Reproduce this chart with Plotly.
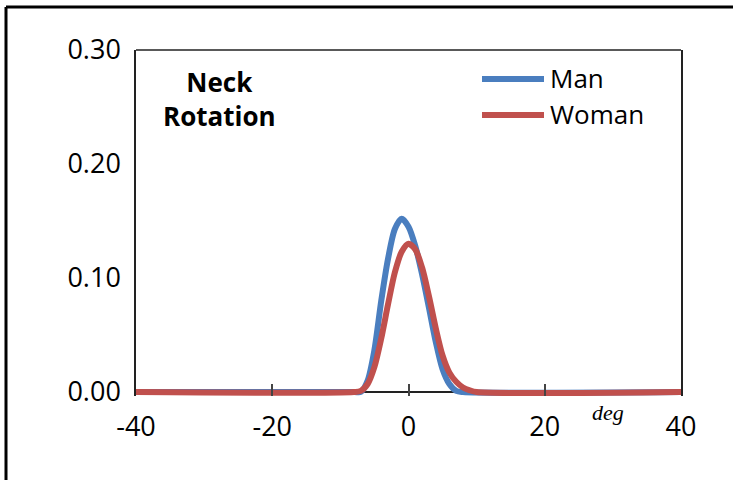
import plotly.graph_objects as go

# Data
man_x = [-40, -8, -7, -6, -5, -4, -3, -2, -1, 0, 1, 2, 3, 4, 5, 6, 7, 8, 40]
man_y = [0.0, 0.0, 0.0, 0.010, 0.037, 0.080, 0.117, 0.143, 0.152, 0.145, 0.128, 0.103, 0.074, 0.044, 0.020, 0.007, 0.001, 0.0, 0.0]

woman_x = [-40, -8, -7, -6, -5, -4, -3, -2, -1, 0, 1, 2, 3, 4, 5, 6, 7, 8, 9, 10, 40]
woman_y = [0.0, 0.0, 0.001, 0.007, 0.022, 0.047, 0.077, 0.105, 0.123, 0.130, 0.125, 0.109, 0.084, 0.056, 0.032, 0.017, 0.009, 0.004, 0.0015, 0.0, 0.0]

x_ticks = [-40, -20, 0, 20, 40]
x_tick_labels = ["-40", "-20", "0", "20", "40"]
y_ticks = [0.0, 0.1, 0.2, 0.3]
series_names = ["Man", "Woman"]
title_text = "Neck<br>Rotation"
x_unit = "deg"

BLUE = "#4A7EBF"
RED = "#C0504D"
FONT = "Open Sans, Lato, sans-serif"

# Geometry (pixels)
L, R_EDGE, TOP, ZERO_PX = 136, 681, 50, 392
Y_MAX = 0.30
PX_PER_UNIT = (ZERO_PX - TOP) / Y_MAX
Y_MIN = -4.0 / PX_PER_UNIT          # a little room so the zero line sits inside
BOTTOM = ZERO_PX + 4.0

fig = go.Figure()
fig.add_trace(go.Scatter(x=man_x, y=man_y, mode="lines", name=series_names[0],
                         line=dict(color=BLUE, width=6, shape="spline", smoothing=0.8),
                         showlegend=False))
fig.add_trace(go.Scatter(x=woman_x, y=woman_y, mode="lines", name=series_names[1],
                         line=dict(color=RED, width=6, shape="spline", smoothing=0.8),
                         showlegend=False))

fig.update_layout(
    width=733, height=480,
    margin=dict(l=L, r=733 - R_EDGE, t=TOP, b=480 - BOTTOM),
    paper_bgcolor="white", plot_bgcolor="white",
    font=dict(family=FONT, size=27, color="black"),
    showlegend=False,
)
fig.update_xaxes(range=[-40, 40], tickvals=x_ticks, ticktext=x_tick_labels,
                 ticks="inside", ticklen=12, tickwidth=1.5, tickcolor="#444",
                 showline=False, showgrid=False, zeroline=False,
                 ticklabelstandoff=12, tickfont=dict(family=FONT, size=27))
fig.update_yaxes(range=[Y_MIN, Y_MAX], tickvals=y_ticks, tickformat=".2f", ticks="",
                 showline=True, mirror=True, linecolor="#222", linewidth=1.5,
                 showgrid=False, zeroline=True, zerolinecolor="#222", zerolinewidth=1.5,
                 layer="below traces", ticklabelstandoff=8,
                 tickfont=dict(family=FONT, size=27))

pw, ph = R_EDGE - L, BOTTOM - TOP
def px_x(p):
    return (p - L) / pw
def px_y(p):
    return (BOTTOM - p) / ph

# Top edge of plot box
fig.add_shape(type="line", xref="paper", yref="paper", x0=0, x1=1, y0=1, y1=1,
              line=dict(color="#222", width=1.5))

# Panel label
fig.add_annotation(text="<b>" + title_text + "</b>", xref="paper", yref="paper",
                   x=px_x(219), y=px_y(99), showarrow=False,
                   font=dict(family=FONT, size=26, color="black"), align="center",
                   xanchor="center", yanchor="middle")

# Legend (manual)
for name, color, yy in [(series_names[0], BLUE, 79), (series_names[1], RED, 115)]:
    fig.add_shape(type="line", xref="paper", yref="paper",
                  x0=px_x(482), x1=px_x(544), y0=px_y(yy), y1=px_y(yy),
                  line=dict(color=color, width=6))
    fig.add_annotation(text=name, xref="paper", yref="paper", x=px_x(548), y=px_y(yy - 1),
                       showarrow=False, xanchor="left", yanchor="middle",
                       font=dict(family=FONT, size=26, color="black"))

# Axis unit
fig.add_annotation(text="<i>" + x_unit + "</i>", xref="paper", yref="paper",
                   x=px_x(608), y=px_y(413), showarrow=False,
                   xanchor="center", yanchor="middle",
                   font=dict(family="Liberation Serif, serif", size=22, color="black"))

# Outer frame (top and left edges)
fig.add_shape(type="line", xref="paper", yref="paper",
              x0=px_x(6), x1=px_x(740), y0=px_y(7), y1=px_y(7),
              line=dict(color="black", width=3))
fig.add_shape(type="line", xref="paper", yref="paper",
              x0=px_x(6), x1=px_x(6), y0=px_y(7), y1=px_y(490),
              line=dict(color="black", width=3))

fig.write_html("out.html")
